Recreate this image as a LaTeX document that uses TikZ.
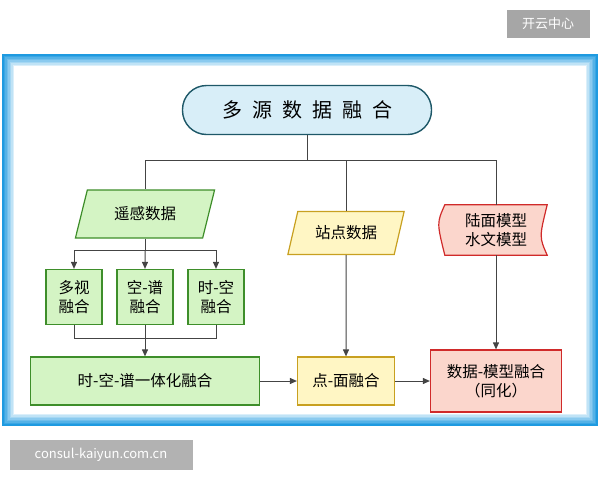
\documentclass[tikz,border=0pt]{standalone}
\usepackage{fontspec}
\setmainfont{Noto Sans CJK SC}
\usetikzlibrary{shapes.geometric,positioning,arrows.meta}
\definecolor{frameblue}{HTML}{1E9AE0}
\definecolor{greenfill}{HTML}{D4F4C4}
\definecolor{greenline}{HTML}{3E8E2A}
\definecolor{yelfill}{HTML}{FFF6C4}
\definecolor{yelline}{HTML}{C8A020}
\definecolor{pinkfill}{HTML}{FBD6CC}
\definecolor{redline}{HTML}{D02A2A}
\definecolor{topfill}{HTML}{D8EEF8}
\definecolor{topline}{HTML}{1E5868}
\definecolor{wire}{HTML}{444444}
\tikzset{
  box/.style={rectangle, draw=greenline, fill=greenfill, line width=1.2pt, font=\fontsize{15.5}{19}\selectfont, align=center, inner sep=0pt},
  para/.style={trapezium, trapezium left angle=66, trapezium right angle=114, trapezium stretches=true, line width=1.2pt, font=\fontsize{15.5}{19}\selectfont, inner sep=0pt},
  link/.style={draw=wire, line width=1pt},
  arr/.style={link, -{Triangle[length=7pt,width=6pt]}}
}
\begin{document}
\begin{tikzpicture}[x=1pt,y=-1pt]
\useasboundingbox (0,0) rectangle (600,480);
% watermarks
\node[fill=black!35, text=white, minimum width=83pt, minimum height=28pt, font=\fontsize{13}{15}\selectfont, inner sep=0pt] (wmtop) at (548,24) {开云中心};
\node[fill=black!30, text=white, minimum width=183pt, minimum height=30pt, font=\fontsize{13}{15}\selectfont, inner sep=0pt] (wmbot) at (101,455) {consul-kaiyun.com.cn};
% frame
\foreach \i in {0,...,7}
  \draw[draw=frameblue!\the\numexpr 100-12*\i\relax, line width=1.5pt] (3+1.5*\i,55+1.5*\i) rectangle (597-1.5*\i,425-1.5*\i);
% nodes
\node[rectangle, rounded corners=24pt, draw=topline, fill=topfill, line width=1.4pt, minimum width=249pt, minimum height=49pt, font=\fontsize{20}{24}\selectfont] (fusion) at (307,110) {多\enspace 源\enspace 数\enspace 据\enspace 融\enspace 合};
\node[para, draw=greenline, fill=greenfill, minimum width=140pt, minimum height=48pt] (rs) at (145,214) {遥感数据};
\node[box, minimum width=56pt, minimum height=55pt] (mv) at (74,297) {多视\\融合};
\node[box, minimum width=56pt, minimum height=55pt] (ss) at (145,297) {空-谱\\融合};
\node[box, minimum width=56pt, minimum height=55pt] (ts) at (216,297) {时-空\\融合};
\node[box, minimum width=229pt, minimum height=48pt] (tss) at (145,381) {时-空-谱一体化融合};
\node[para, draw=yelline, fill=yelfill, minimum width=117pt, minimum height=43pt] (site) at (346,233) {站点数据};
\node[box, draw=yelline, fill=yelfill, minimum width=97pt, minimum height=48pt] (pa) at (346,381) {点-面融合};
\node[font=\fontsize{15.5}{19}\selectfont, align=center, inner sep=0pt, minimum width=102pt, minimum height=50pt] (model) at (496,230) {陆面模型\\水文模型};
\draw[draw=redline, fill=pinkfill, line width=1.2pt] (model.north west) .. controls +(-8,18) .. (model.south west) -- (model.south east) .. controls +(-8,-18) .. (model.north east) -- cycle;
\node[font=\fontsize{15.5}{19}\selectfont, align=center, inner sep=0pt] at (model) {陆面模型\\水文模型};
\node[box, draw=redline, fill=pinkfill, minimum width=131pt, minimum height=62pt] (dm) at (496,381) {数据-模型融合\\（同化）};
% connectors
\coordinate (hub) at (fusion.south |- 0,160);
\draw[link] (fusion.south) -- (hub);
\draw[link] (rs.north |- hub) -- (model.north |- hub);
\draw[link] (rs.north |- hub) -- (rs.north);
\draw[link] (site.north |- hub) -- (site.north);
\draw[link] (model.north |- hub) -- (model.north);
\coordinate (split) at (rs.south |- 0,250);
\draw[link] (rs.south) -- (split);
\draw[link] (mv.north |- split) -- (ts.north |- split);
\draw[arr] (mv.north |- split) -- (mv.north);
\draw[arr] (split) -- (ss.north);
\draw[arr] (ts.north |- split) -- (ts.north);
\coordinate (join) at (ss.south |- 0,338);
\draw[link] (mv.south) -- (mv.south |- join) -- (ts.south |- join) -- (ts.south);
\draw[arr] (ss.south) -- (tss.north);
\draw[arr] (site.south) -- (pa.north);
\draw[arr] (model.south) -- (dm.north);
\draw[arr] (tss.east) -- (pa.west);
\draw[arr] (pa.east) -- (dm.west);
\end{tikzpicture}
\end{document}
